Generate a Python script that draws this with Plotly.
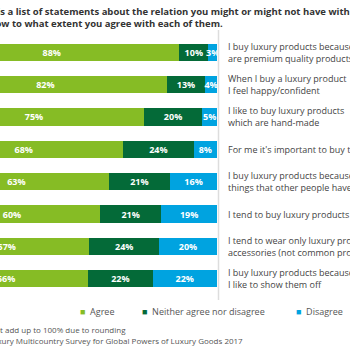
import plotly.graph_objects as go

statements = [
    "I buy luxury products because they<br>are premium quality products",
    "When I buy a luxury product<br>I feel happy/confident",
    "I like to buy luxury products<br>which are hand-made",
    "For me it's important to buy the latest products",
    "I buy luxury products because they are<br>things that other people haven't got",
    "I tend to buy luxury products in sales",
    "I tend to wear only luxury products and<br>accessories (not common products)",
    "I buy luxury products because<br>I like to show them off",
]
agree = [88, 82, 75, 68, 63, 60, 57, 56]
neither = [10, 13, 20, 24, 21, 21, 24, 22]
disagree = [3, 4, 5, 8, 16, 19, 20, 22]
series_names = ["Agree", "Neither agree nor disagree", "Disagree"]
colors = ["#86BC25", "#046A38", "#00A3E0"]

W, H = 350, 350
ML, MR, MT, MB = 0, 133, 36, 55
PW = W - ML - MR
PH = H - MT - MB

def px_x(px):
    return (px - ML) / PW

def px_y(py):
    return (H - MB - py) / PH

fig = go.Figure()
for name, vals, col in zip(series_names, [agree, neither, disagree], colors):
    fig.add_trace(go.Bar(
        y=statements, x=vals, orientation="h", name=name,
        marker=dict(color=col, line=dict(width=0)),
        text=[f"{v}%" for v in vals], textposition="inside",
        insidetextanchor="middle", textangle=0,
        textfont=dict(family="Open Sans", size=9, color="white", weight=700),
        showlegend=False,
    ))

annotations = []
for s in statements:
    annotations.append(dict(
        x=px_x(226), xref="paper", y=s, yref="y", text=s,
        xanchor="left", yanchor="middle", align="left", showarrow=False,
        font=dict(family="Open Sans", size=9, color="#444444"),
    ))

# header
annotations.append(dict(
    x=px_x(-36), xref="paper", y=px_y(11.5), yref="paper",
    text="<b>Below is a list of statements about the relation you might or might not have with luxury products.</b>",
    xanchor="left", yanchor="middle", showarrow=False,
    font=dict(family="Open Sans", size=9.5, color="#333333"),
))
annotations.append(dict(
    x=px_x(225), xref="paper", y=px_y(23), yref="paper",
    text="<b>Please indicate below to what extent you agree with each of them.</b>",
    xanchor="right", yanchor="middle", showarrow=False,
    font=dict(family="Open Sans", size=9.5, color="#333333"),
))

# legend
for name, col, lx in zip(series_names, colors, [78, 140, 294]):
    annotations.append(dict(
        x=px_x(lx), xref="paper", y=px_y(311), yref="paper",
        text=f"<span style='color:{col}'>■</span>  {name}",
        xanchor="left", yanchor="middle", showarrow=False,
        font=dict(family="Open Sans", size=9, color="#555555"),
    ))

# footnotes
annotations.append(dict(
    x=px_x(128), xref="paper", y=px_y(329), yref="paper",
    text="Note: Figures may not add up to 100% due to rounding",
    xanchor="right", yanchor="middle", showarrow=False,
    font=dict(family="Open Sans", size=8, color="#555555"),
))
annotations.append(dict(
    x=px_x(245), xref="paper", y=px_y(340), yref="paper",
    text="Source: Deloitte Luxury Multicountry Survey for Global Powers of Luxury Goods 2017",
    xanchor="right", yanchor="middle", showarrow=False,
    font=dict(family="Open Sans", size=8, color="#555555"),
))

fig.update_layout(
    width=W, height=H,
    margin=dict(l=ML, r=MR, t=MT, b=MB, pad=0),
    barmode="stack", barnorm="percent", bargap=0.47,
    plot_bgcolor="white", paper_bgcolor="white",
    uniformtext=dict(minsize=9, mode="show"),
    xaxis=dict(range=[25.9, 100], visible=False, fixedrange=True),
    yaxis=dict(autorange="reversed", visible=False, fixedrange=True),
    annotations=annotations,
    shapes=[dict(type="line", xref="paper", yref="paper",
                 x0=px_x(218.5), x1=px_x(218.5), y0=px_y(300), y1=px_y(30),
                 line=dict(color="#DDDDDD", width=1.5))],
)

fig.write_html("out.html")
